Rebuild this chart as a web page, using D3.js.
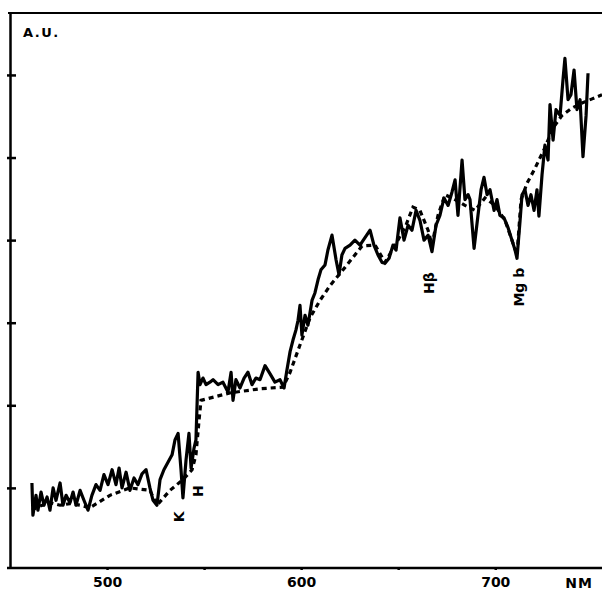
<!DOCTYPE html>
<html><head><meta charset="utf-8">
<script src="https://cdn.jsdelivr.net/npm/d3@7"></script>
<style>
html,body{margin:0;padding:0;background:#fff;}
svg{display:block;}
text{font-family:"DejaVu Sans",sans-serif;font-weight:bold;fill:#000;}
</style></head>
<body>
<svg id="c" width="602" height="591"></svg>
<script>
// Measured spectrum (solid) : wavelength (nm) and intensity (A.U.)
const solidNm = [461.3,461.8,463.4,464.4,466.0,467.5,469.1,470.6,472.2,473.7,475.8,477.3,478.9,480.9,482.5,484.0,486.1,488.1,490.2,492.2,494.3,496.4,498.4,500.5,502.6,504.6,506.2,507.7,509.8,511.8,513.9,515.9,518.0,520.1,522.1,523.7,525.7,527.3,529.3,531.4,533.5,535.0,536.6,538.1,539.1,540.7,542.2,543.3,544.8,545.8,546.9,547.9,549.4,551.0,553.0,554.6,557.2,559.7,562.3,563.9,564.9,566.4,568.5,570.6,572.6,574.7,576.7,578.8,581.4,584.0,586.5,589.1,591.2,592.7,594.3,595.8,597.3,598.4,599.4,600.4,602.0,603.5,605.6,607.1,608.7,610.2,612.3,613.8,615.9,618.0,619.5,621.0,622.6,625.2,627.7,630.3,632.9,635.5,637.5,639.6,641.7,643.2,645.3,647.3,648.9,650.9,653.0,655.1,657.1,659.2,661.2,663.3,665.4,667.4,669.5,671.5,673.6,675.7,677.7,679.3,680.8,682.9,684.4,686.0,687.0,689.1,691.1,692.7,694.2,695.8,697.3,699.4,700.9,702.4,704.5,706.6,708.6,710.2,711.2,712.8,713.8,715.3,716.9,718.4,720.0,721.5,722.5,724.1,725.6,727.2,728.2,729.8,731.3,733.4,734.9,735.9,737.5,739.0,740.6,742.1,743.7,745.2,746.8,747.8];
const solidAU = [1.06,0.67,0.91,0.73,0.95,0.79,0.89,0.73,1.00,0.85,1.06,0.79,0.91,0.82,0.95,0.79,0.97,0.85,0.73,0.91,1.04,0.97,1.16,1.04,1.22,1.04,1.24,1.00,1.19,0.97,1.12,1.04,1.17,1.22,1.00,0.85,0.79,1.10,1.22,1.31,1.40,1.58,1.66,1.22,0.88,1.34,1.66,1.24,1.48,1.58,2.40,2.25,2.33,2.25,2.28,2.31,2.25,2.28,2.16,2.40,2.06,2.31,2.21,2.33,2.40,2.25,2.33,2.31,2.48,2.38,2.28,2.31,2.21,2.43,2.65,2.79,2.91,3.03,3.21,2.85,3.09,2.97,3.27,3.36,3.52,3.64,3.70,3.88,4.06,3.76,3.58,3.82,3.90,3.94,4.00,3.94,4.03,4.12,3.94,3.82,3.73,3.72,3.78,3.94,3.88,4.27,4.00,4.18,4.12,4.36,4.24,4.00,4.06,3.86,4.18,4.30,4.51,4.42,4.58,4.73,4.30,4.97,4.49,4.55,4.49,3.90,4.30,4.61,4.76,4.55,4.61,4.36,4.49,4.30,4.27,4.15,4.00,3.88,3.78,4.24,4.55,4.61,4.42,4.55,4.36,4.61,4.29,4.79,5.15,4.97,5.64,5.21,5.58,5.51,5.94,6.20,5.70,5.76,6.06,5.58,5.70,5.01,5.51,6.02];

// Reference spectrum (dashed)
const dashNm = [461.3,465.5,470.6,475.8,480.9,486.1,491.2,501.5,511.8,522.1,525.7,532.4,539.1,543.8,545.8,547.4,548.4,563.3,578.8,590.7,594.3,599.4,604.6,609.7,614.9,622.6,631.4,638.1,643.2,648.4,653.5,657.6,661.2,665.4,667.4,670.5,674.1,679.3,684.4,689.6,694.7,699.9,705.0,708.6,711.2,713.3,716.4,720.5,725.6,729.8,734.4,739.6,744.7,749.9,755.0];
const dashAU = [0.73,0.78,0.82,0.79,0.81,0.79,0.76,0.91,1.00,0.97,0.79,0.97,1.10,1.22,1.40,1.82,2.06,2.15,2.20,2.22,2.40,2.73,3.06,3.27,3.45,3.67,3.93,3.94,3.73,3.94,4.15,4.40,4.36,4.12,3.94,4.30,4.55,4.49,4.42,4.36,4.51,4.42,4.24,4.00,3.82,4.49,4.69,4.87,5.12,5.36,5.51,5.60,5.66,5.71,5.76];

const yTicks = [1,2,3,4,5,6];
const xTicks = [500,550,600,650,700];
const xTickLabels = ["500","","600","","700"];

// Line identifications
const lineLabels = ["K","H","Hβ","Mg b"];
const lineLabelNm = [539.5, 549.2, 668.5, 715.0];
const lineLabelAU = [0.65, 0.96, 3.48, 3.43];

const svg = d3.select("#c");
const x = d3.scaleLinear().domain([450, 755]).range([10, 602]);
const y = d3.scaleLinear().domain([0.03, 6.75]).range([568, 13]);

// frame top line
svg.append("line").attr("x1", x(450)-2).attr("x2", 602).attr("y1", y(6.75)).attr("y2", y(6.75))
  .attr("stroke", "#000").attr("stroke-width", 2);

const gy = svg.append("g").attr("transform", "translate(10,0)")
  .call(d3.axisLeft(y).tickValues(yTicks).tickSize(-6).tickSizeOuter(0).tickFormat(""));
gy.selectAll(".tick line").attr("x1", -3).attr("stroke-width", 2.5);
gy.select(".domain").attr("stroke-width", 2.5);

const gx = svg.append("g").attr("transform", "translate(0,568)")
  .call(d3.axisBottom(x).tickValues(xTicks).tickSize(-6).tickSizeOuter(0).tickPadding(9)
    .tickFormat((d,i) => xTickLabels[i]));
gx.select(".domain").attr("stroke-width", 2.5).attr("d", "M7,0H602");
gx.selectAll(".tick line").attr("y2", 2).attr("stroke-width", 2.5);
gx.selectAll(".tick text").attr("font-size", 14).attr("font-family", "DejaVu Sans").attr("font-weight", "bold");

svg.append("text").attr("x", 579).attr("y", 588).attr("text-anchor", "middle")
  .attr("font-size", 14).attr("letter-spacing", 1).text("NM");
svg.append("text").attr("x", 23).attr("y", 37)
  .attr("font-size", 13).attr("letter-spacing", 1.5).text("A.U.");

const line = d3.line().x(d => x(d[0])).y(d => y(d[1]));

svg.append("path").datum(dashNm.map((v,i) => [v, dashAU[i]]))
  .attr("d", line).attr("fill", "none").attr("stroke", "#000")
  .attr("stroke-width", 3.2).attr("stroke-dasharray", "5,4");

svg.append("path").datum(solidNm.map((v,i) => [v, solidAU[i]]))
  .attr("d", line).attr("fill", "none").attr("stroke", "#000")
  .attr("stroke-width", 3.2).attr("stroke-linejoin", "round");

lineLabels.forEach((t, i) => {
  const px = x(lineLabelNm[i]), py = y(lineLabelAU[i]);
  svg.append("text").attr("transform", `translate(${px},${py}) rotate(-90)`)
    .attr("text-anchor", "middle").attr("font-size", 14).text(t);
});
</script>
</body></html>
